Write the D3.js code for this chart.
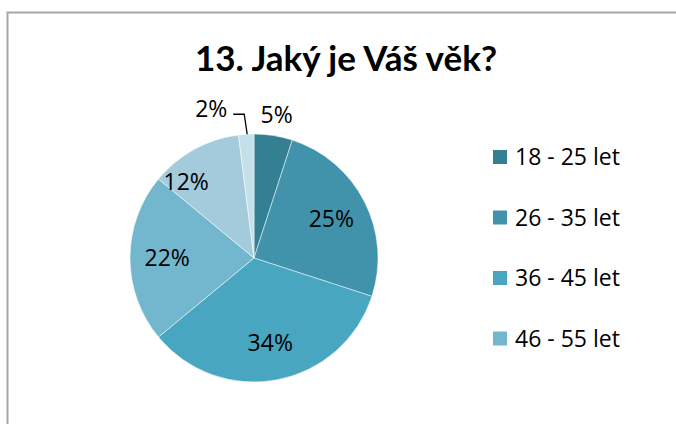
<!DOCTYPE html>
<html>
<head>
<meta charset="utf-8">
<script src="https://cdn.jsdelivr.net/npm/d3@7"></script>
<style>
  body { margin: 0; background: #fff; }
  svg { display: block; }
</style>
</head>
<body>
<div id="chart"></div>
<script>
// Data
const categories = ["18 - 25 let", "26 - 35 let", "36 - 45 let", "46 - 55 let", "56 - 65 let", "nad 65 let"];
const values = [5, 25, 34, 22, 12, 2];
const colors = ["#357f93", "#4193ab", "#49a6c0", "#73b7ce", "#a4cbdc", "#c6e0ea"];
const legendShown = 4; // only the first four fit in the original legend

function pieChart() {
  const width = 676;
  const height = 424;
  const cx = 254, cy = 258, radius = 124;

  const svg = d3.select("#chart")
    .append("svg")
    .attr("width", width)
    .attr("height", height);

  // chart frame
  svg.append("rect")
    .attr("x", 7.5).attr("y", 12.5)
    .attr("width", 700).attr("height", 450)
    .attr("fill", "none")
    .attr("stroke", "#a6a6a6")
    .attr("stroke-width", 2);

  svg.append("text")
    .attr("x", 346)
    .attr("y", 71)
    .attr("text-anchor", "middle")
    .style("font-family", "Lato, 'Open Sans', sans-serif")
    .style("font-weight", "bold")
    .style("font-size", "35px")
    .text("13. Jaký je Váš věk?");

  const pieData = d3.pie().sort(null)(values);
  const arc = d3.arc().innerRadius(0).outerRadius(radius);
  const labelArc = d3.arc().innerRadius(radius * 0.7).outerRadius(radius * 0.7);
  const outerArc = d3.arc().innerRadius(radius * 1.17).outerRadius(radius * 1.17);
  const edgeArc = d3.arc().innerRadius(radius).outerRadius(radius);

  const g = svg.append("g").attr("transform", `translate(${cx}, ${cy})`);

  g.selectAll("path")
    .data(pieData)
    .enter()
    .append("path")
    .attr("d", arc)
    .attr("fill", (d, i) => colors[i])
    .attr("stroke", "#ffffff")
    .attr("stroke-width", 0.5);

  // label placement: inside, outside, or outside with leader line
  const fmt = (d) => d.data + "%";
  g.selectAll("text.lbl")
    .data(pieData)
    .enter()
    .append("text")
    .attr("class", "lbl")
    .attr("transform", (d, i) => {
      let p;
      if (i === 0) p = outerArc.centroid(d);
      else if (i === 5) {
        const e = edgeArc.centroid(d);
        p = [e[0] - 35, e[1] - 25];
      } else p = labelArc.centroid(d);
      if (i === 4) p = [p[0] - 26, p[1]];
      return `translate(${p[0]}, ${p[1]})`;
    })
    .attr("dy", "0.35em")
    .attr("text-anchor", "middle")
    .style("font-family", "'Open Sans', sans-serif")
    .style("font-size", "23px")
    .style("fill", "#000")
    .text(fmt);

  // leader line for the smallest slice
  const small = pieData[5];
  const e = edgeArc.centroid(small);
  g.append("path")
    .attr("d", d3.line()([[e[0] - 13, e[1] - 20], [e[0] - 2, e[1] - 20], [e[0] + 1, e[1]]]))
    .attr("fill", "none")
    .attr("stroke", "#000")
    .attr("stroke-width", 1.3);

  // legend
  const legend = svg.append("g")
    .selectAll("g")
    .data(categories.slice(0, legendShown))
    .enter()
    .append("g")
    .attr("transform", (d, i) => `translate(493, ${157 + i * 60.5})`);

  legend.append("rect")
    .attr("x", 0).attr("y", -7)
    .attr("width", 14).attr("height", 14)
    .attr("fill", (d, i) => colors[i]);

  legend.append("text")
    .attr("x", 22)
    .attr("dy", "0.36em")
    .style("font-family", "'Open Sans', sans-serif")
    .style("font-size", "23px")
    .text((d) => d);
}

pieChart();
</script>
</body>
</html>
